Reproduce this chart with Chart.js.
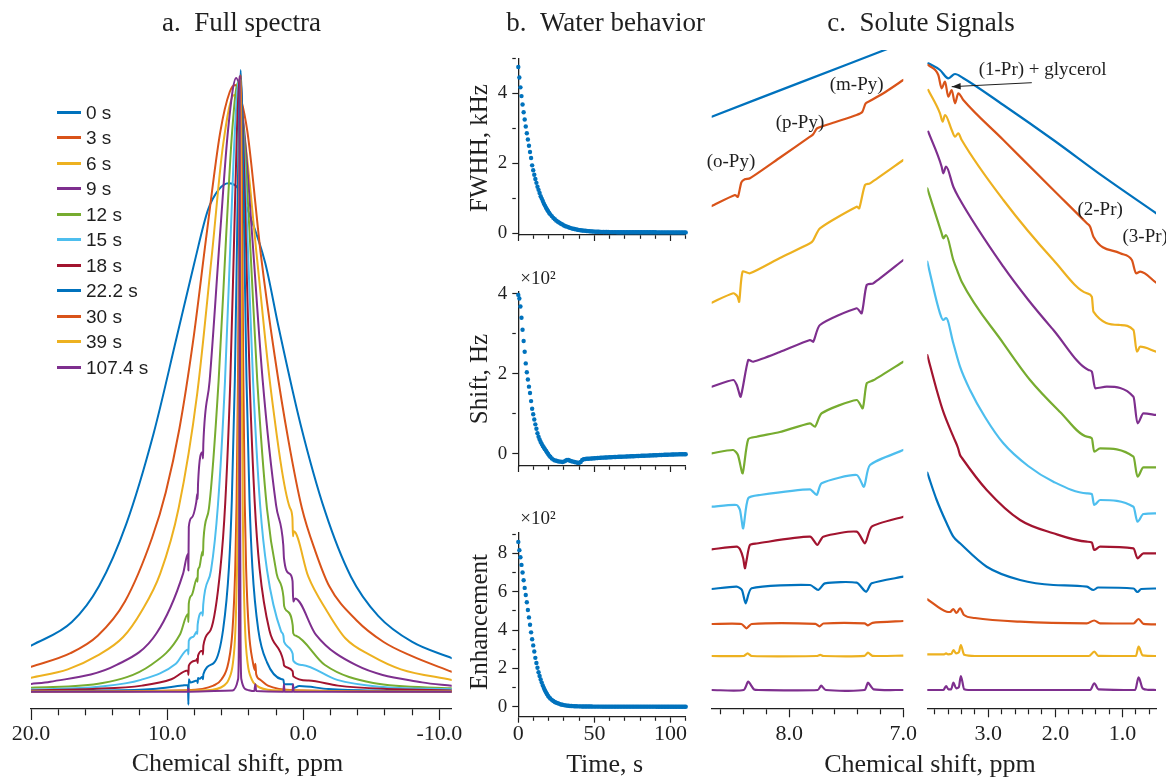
<!DOCTYPE html>
<html><head><meta charset="utf-8">
<script src="https://cdn.jsdelivr.net/npm/chart.js@4.4.1/dist/chart.umd.min.js"></script>
<style>
html,body{margin:0;padding:0;background:#fff;}
#wrap{position:relative;width:1166px;height:779px;overflow:hidden;background:#fff;font-family:"Liberation Serif","Times New Roman",serif;color:#1f1f1f;}
canvas{position:absolute;}
.t{position:absolute;transform:translate(-50%,-50%);white-space:nowrap;line-height:1;}
.rot{transform:translate(-50%,-50%) rotate(-90deg);}
.leg{position:absolute;font-family:"Liberation Sans",Arial,sans-serif;font-size:19px;line-height:1;white-space:nowrap;transform:translateY(-50%);}
.legline{position:absolute;height:3px;width:24px;}
</style></head><body><div id="wrap"></div>
<script>
// ---------------- DATA ----------------
const seriesLabels = ['0 s','3 s','6 s','9 s','12 s','15 s','18 s','22.2 s','30 s','39 s','107.4 s'];
const seriesColors = ['#0072BD','#D95319','#EDB120','#7E2F8E','#77AC30','#4DBEEE','#A2142F','#0072BD','#D95319','#EDB120','#7E2F8E'];

// a. Full spectra: [ppm, normalized intensity]
const spec_0s = [[20,0.074],[17,0.112],[15,0.17],[13,0.27],[11,0.415],[9.3,0.57],[8,0.69],[7,0.775],[6.2,0.808],[5.5,0.818],[4.8,0.81],[4,0.77],[2.8,0.69],[1.8,0.585],[0.2,0.43],[-1.6,0.29],[-3.5,0.185],[-5.5,0.122],[-8,0.08],[-10.9,0.054]];
const spec_3s = [[20,0.04],[17.1,0.062],[15.1,0.09],[13.1,0.145],[11.1,0.248],[10.1,0.321],[9.1,0.423],[8.1,0.563],[7.1,0.736],[6.1,0.9],[5.4,0.965],[5.0,0.976],[4.6,0.955],[4.1,0.9],[3.1,0.7],[2.1,0.54],[1.1,0.405],[0.1,0.295],[-0.9,0.225],[-1.9,0.17],[-3.9,0.115],[-5.9,0.08],[-7.9,0.058],[-10.9,0.032]];
const spec_6s = [[20,0.0225],[17.3,0.036],[15.13,0.058],[13.23,0.088],[11.87,0.13],[10.51,0.19],[9.15,0.296],[7.79,0.48],[6.7,0.706],[5.89,0.88],[5.07,0.96],[4.25,0.88],[3.44,0.706],[2.35,0.48],[0.99,0.296],[0.8,0.28],[0.76,0.25],[0.7,0.258],[-0.37,0.185],[-1.73,0.13],[-3.09,0.086],[-4.99,0.058],[-7.17,0.036],[-10.9,0.019]];
const spec_9s = [[20,0.0124],[18.58,0.016],[13.71,0.043],[10.78,0.094],[8.83,0.19],[8.47,0.222],[8.44,0.195],[8.41,0.265],[8.2,0.28],[7.86,0.305],[7.79,0.318],[7.76,0.31],[7.73,0.335],[7.40,0.385],[7.37,0.375],[7.34,0.40],[6.88,0.50],[6.10,0.74],[5.52,0.905],[4.93,0.987],[4.35,0.905],[3.76,0.735],[2.98,0.5],[2.0,0.30],[1.47,0.236],[1.42,0.215],[1.03,0.19],[0.79,0.178],[0.74,0.145],[0.6,0.15],[-0.92,0.092],[-3.85,0.043],[-8.72,0.015],[-10.9,0.0097]];
const spec_12s = [[20,0.0064],[14.74,0.014],[11.19,0.043],[9.06,0.092],[8.47,0.125],[8.44,0.112],[8.41,0.142],[8.2,0.155],[7.80,0.183],[7.77,0.177],[7.74,0.195],[7.64,0.2],[7.40,0.226],[7.37,0.219],[7.33,0.245],[6.93,0.295],[6.22,0.5],[5.65,0.74],[5.23,0.9],[4.8,0.98],[4.37,0.9],[3.95,0.74],[3.38,0.5],[2.67,0.295],[1.96,0.19],[1.46,0.153],[1.41,0.138],[1.2,0.13],[0.78,0.107],[0.74,0.094],[0.54,0.09],[-1.59,0.043],[-5.14,0.014],[-10.9,0.0055]];
const spec_15s = [[20,0.0035],[15.02,0.008],[11.93,0.019],[9.36,0.045],[8.47,0.068],[8.44,0.06],[8.41,0.082],[8.1,0.088],[7.81,0.097],[7.79,0.093],[7.76,0.108],[7.42,0.128],[7.39,0.122],[7.35,0.14],[6.78,0.195],[6.27,0.30],[5.75,0.50],[5.34,0.73],[5.03,0.90],[4.72,0.984],[4.41,0.90],[4.10,0.73],[3.69,0.50],[3.17,0.30],[2.66,0.195],[1.63,0.097],[1.46,0.09],[1.41,0.08],[0.78,0.061],[0.74,0.05],[0.08,0.043],[-2.49,0.019],[-5.58,0.008],[-10.9,0.004]];
const spec_18s = [[20,0.002],[15.45,0.0044],[11.85,0.0098],[9.69,0.02],[8.47,0.034],[8.44,0.027],[8.41,0.042],[7.89,0.05],[7.79,0.053],[7.76,0.046],[7.73,0.058],[7.40,0.066],[7.37,0.06],[7.34,0.074],[6.81,0.099],[6.09,0.198],[5.73,0.305],[5.37,0.495],[5.08,0.73],[4.87,0.905],[4.65,0.99],[4.43,0.905],[4.22,0.73],[3.93,0.495],[3.57,0.305],[3.21,0.198],[2.49,0.099],[1.46,0.049],[1.41,0.042],[0.78,0.033],[0.74,0.025],[-0.39,0.018],[-2.55,0.0098],[-6.15,0.0044],[-10.9,0.002]];
const spec_22s = [[20,0.0005],[15.35,0.0016],[11.05,0.0044],[8.9,0.01],[8.47,0.011],[8.44,-0.021],[8.41,0.02],[8.3,0.015],[7.79,0.018],[7.76,0.014],[7.73,0.022],[7.61,0.021],[7.40,0.024],[7.37,0.02],[7.34,0.028],[6.54,0.047],[5.89,0.10],[5.46,0.20],[5.25,0.308],[5.03,0.50],[4.86,0.735],[4.73,0.917],[4.6,1.0],[4.47,0.917],[4.34,0.735],[4.17,0.5],[3.95,0.308],[3.74,0.2],[3.31,0.1],[2.66,0.047],[1.59,0.02],[1.46,0.019],[1.41,0.012],[0.78,0.012],[0.74,0.006],[0.3,0.009],[-1.85,0.0044],[-6.15,0.0016],[-10.9,0.0005]];
const spec_30s = [[20,0.0003],[8.6,0.0025],[6.6,0.0099],[6.0,0.02],[5.5,0.047],[5.2,0.099],[5.0,0.198],[4.9,0.305],[4.8,0.496],[4.72,0.73],[4.66,0.91],[4.6,0.992],[4.54,0.91],[4.48,0.73],[4.4,0.496],[4.3,0.305],[4.2,0.198],[4.0,0.099],[3.7,0.047],[3.56,0.035],[3.52,0.045],[3.46,0.028],[3.2,0.02],[2.6,0.0099],[0.6,0.0025],[-10.9,0.0003]];
const spec_39s = [[20,0.0002],[7.03,0.0025],[5.83,0.0098],[5.47,0.02],[5.17,0.046],[4.99,0.098],[4.87,0.197],[4.81,0.30],[4.75,0.49],[4.702,0.725],[4.666,0.90],[4.63,0.984],[4.594,0.90],[4.558,0.725],[4.51,0.49],[4.45,0.30],[4.39,0.197],[4.27,0.098],[4.09,0.046],[3.79,0.02],[3.43,0.0098],[2.23,0.0025],[-10.9,0.0002]];
const spec_107s = [[20,0],[8.48,0],[8.44,0.005],[8.40,0],[5.2,0.002],[4.79,0.02],[4.73,0.09],[4.70,0.33],[4.67,0.99],[4.64,0.33],[4.61,0.09],[4.55,0.02],[4.1,0.003],[3.6,0.001],[3.52,0.012],[3.46,0.001],[1.46,0],[1.42,0.012],[1.38,0],[0.79,0],[0.75,0.012],[0.71,0],[-10.9,0]];
const fullSpectra = [spec_0s,spec_3s,spec_6s,spec_9s,spec_12s,spec_15s,spec_18s,spec_22s,spec_30s,spec_39s,spec_107s];

// b. Water behavior
const waterTime = [0,0.7,1.4,2.1,2.8,3.5,4.2,4.9,5.6,6.3,7,7.7,8.4,9.1,9.8,10.5,11.2,11.9,12.6,13.3,14,14.7,15.4,16.1,16.8,17.5,18.2,18.9,19.6,20.3,21,
22,23,24,25,26,27,28,29,30,31,32,33,34,35,36,37,38,39,40,41,42,43,44,45,46,47,48,49,50,51,52,53,54,55,56,57,58,59,60,
61,62,63,64,65,66,67,68,69,70,71,72,73,74,75,76,77,78,79,80,81,82,83,84,85,86,87,88,89,90,91,92,93,94,95,96,97,98,99,100,101,102,103,104,105,106,107,108,109,110];
const fwhhKHz = [4.75,4.45,4.17,3.92,3.68,3.46,3.25,3.05,2.86,2.68,2.50,2.32,2.15,1.94,1.80,1.67,1.55,1.44,1.33,1.24,1.15,1.06,0.99,0.92,0.85,0.79,0.73,0.68,0.63,0.58,0.54,
0.49,0.44,0.40,0.36,0.33,0.30,0.27,0.25,0.22,0.20,0.19,0.17,0.155,0.14,0.13,0.12,0.11,0.10,0.09,0.085,0.08,0.075,0.07,0.065,0.06,0.056,0.053,0.05,0.047,0.045,0.043,0.041,0.04,0.038,0.037,0.036,0.035,0.034,0.033,
0.032,0.032,0.031,0.031,0.030,0.030,0.030,0.029,0.029,0.029,0.028,0.028,0.028,0.028,0.028,0.028,0.028,0.028,0.028,0.028,0.027,0.027,0.027,0.027,0.027,0.027,0.027,0.027,0.027,0.027,0.026,0.026,0.026,0.026,0.026,0.026,0.026,0.026,0.026,0.026,0.025,0.025,0.025,0.025,0.025,0.025,0.025,0.025,0.025,0.025];
const shiftHz100 = [3.97,3.88,3.68,3.40,3.10,2.82,2.55,2.26,2.04,1.86,1.68,1.52,1.32,1.13,0.99,0.86,0.74,0.63,0.52,0.43,0.36,0.30,0.25,0.20,0.16,0.12,0.08,0.04,0.00,-0.04,-0.07,
-0.11,-0.14,-0.16,-0.17,-0.18,-0.19,-0.19,-0.20,-0.19,-0.17,-0.15,-0.15,-0.17,-0.18,-0.19,-0.20,-0.21,-0.22,-0.22,-0.20,-0.15,-0.13,-0.125,-0.12,-0.118,-0.115,-0.112,-0.11,-0.107,-0.104,-0.10,-0.098,-0.095,-0.092,-0.09,-0.088,-0.086,-0.084,-0.082,
-0.080,-0.078,-0.076,-0.075,-0.073,-0.071,-0.07,-0.068,-0.066,-0.065,-0.063,-0.061,-0.06,-0.058,-0.056,-0.055,-0.053,-0.051,-0.05,-0.048,-0.046,-0.045,-0.043,-0.041,-0.04,-0.038,-0.036,-0.035,-0.033,-0.031,-0.03,-0.028,-0.026,-0.025,-0.023,-0.021,-0.02,-0.018,-0.016,-0.015,-0.013,-0.012,-0.011,-0.01,-0.009,-0.008,-0.007,-0.006,-0.005,-0.005];
const enhancement100 = [8.60,8.17,7.80,7.40,7.00,6.60,6.20,5.83,5.45,5.05,4.66,4.28,3.88,3.52,3.20,2.88,2.55,2.28,2.03,1.80,1.60,1.42,1.26,1.11,0.98,0.86,0.75,0.65,0.56,0.49,0.43,
0.36,0.30,0.25,0.21,0.18,0.15,0.12,0.10,0.085,0.07,0.06,0.05,0.04,0.035,0.03,0.027,0.024,0.021,0.019,0.017,0.015,0.014,0.013,0.012,0.011,0.01,0.009,0.008,0.008,0.007,0.007,0.006,0.006,0.005,0.005,0.005,0.004,0.004,0.004,
0.004,0.004,0.004,0.004,0.004,0.004,0.004,0.004,0.004,0.004,0.003,0.003,0.003,0.003,0.003,0.003,0.003,0.003,0.003,0.003,0.003,0.003,0.003,0.003,0.003,0.003,0.003,0.003,0.003,0.003,0.002,0.002,0.002,0.002,0.002,0.002,0.002,0.002,0.002,0.002,0.002,0.002,0.002,0.002,0.002,0.002,0.002,0.002,0.002,0.002];

// c. Solute signals (stacked traces, arbitrary units incl. offset): aromatic region
const aro_0s = [[8.68,5.916],[7.906,6.257],[7.0,6.655]];
const aro_3s = [[8.68,5.023],[8.476,5.133],[8.45,5.115],[8.42,5.26],[8.39,5.29],[8.345,5.30],[8.08,5.508],[7.818,5.716],[7.79,5.74],[7.755,5.80],[7.6,5.86],[7.41,5.933],[7.36,5.963],[7.33,6.05],[7.29,6.075],[7.15,6.168],[7.0,6.283]];
const aro_6s = [[8.68,4.056],[8.491,4.15],[8.455,4.12],[8.439,4.066],[8.409,4.366],[8.345,4.35],[8.082,4.503],[7.818,4.65],[7.79,4.68],[7.731,4.80],[7.409,5.016],[7.386,5.0],[7.336,5.233],[7.292,5.25],[7.0,5.483]];
const aro_9s = [[8.68,3.216],[8.491,3.283],[8.46,3.233],[8.426,3.116],[8.36,3.483],[8.316,3.466],[8.082,3.563],[7.818,3.683],[7.789,3.666],[7.731,3.833],[7.409,4.0],[7.365,3.95],[7.321,4.233],[7.263,4.25],[7.0,4.483]];
const aro_12s = [[8.68,2.55],[8.491,2.583],[8.45,2.533],[8.409,2.35],[8.36,2.69],[8.286,2.716],[8.082,2.763],[7.818,2.85],[7.774,2.816],[7.716,2.95],[7.409,3.083],[7.356,3.0],[7.321,3.25],[7.263,3.28],[7.0,3.466]];
const aro_15s = [[8.68,2.016],[8.461,2.033],[8.432,1.983],[8.404,1.80],[8.36,2.10],[8.257,2.133],[7.818,2.19],[7.76,2.133],[7.716,2.25],[7.409,2.333],[7.345,2.216],[7.292,2.433],[7.0,2.583]];
const aro_18s = [[8.68,1.59],[8.461,1.616],[8.432,1.59],[8.404,1.50],[8.389,1.40],[8.374,1.483],[8.345,1.633],[8.286,1.648],[7.818,1.716],[7.754,1.633],[7.702,1.716],[7.409,1.766],[7.336,1.65],[7.277,1.816],[7.0,1.916]];
const aro_22s = [[8.68,1.193],[8.461,1.216],[8.415,1.183],[8.382,1.05],[8.33,1.20],[7.818,1.233],[7.746,1.183],[7.687,1.25],[7.409,1.256],[7.327,1.166],[7.277,1.25],[7.0,1.316]];
const aro_30s = [[8.68,0.843],[8.42,0.843],[8.375,0.80],[8.33,0.843],[7.77,0.845],[7.735,0.82],[7.70,0.848],[7.34,0.85],[7.31,0.83],[7.27,0.855],[7.0,0.873]];
const aro_39s = [[8.68,0.523],[8.40,0.523],[8.365,0.55],[8.33,0.523],[7.76,0.523],[7.728,0.535],[7.70,0.523],[7.34,0.525],[7.31,0.556],[7.27,0.525],[7.0,0.527]];
const aro_107s = [[8.68,0.183],[8.40,0.183],[8.36,0.266],[8.31,0.19],[8.27,0.183],[7.75,0.183],[7.72,0.226],[7.68,0.183],[7.34,0.183],[7.31,0.256],[7.26,0.19],[7.0,0.183]];
const aromaticTraces = [aro_0s,aro_3s,aro_6s,aro_9s,aro_12s,aro_15s,aro_18s,aro_22s,aro_30s,aro_39s,aro_107s];

// aliphatic region
const ali_0s = [[3.896,6.45],[3.721,6.383],[3.597,6.30],[3.497,6.343],[3.378,6.303],[2.776,6.033],[2.03,5.683],[1.284,5.316],[0.497,4.95]];
const ali_3s = [[3.896,6.433],[3.746,6.333],[3.696,6.20],[3.646,6.266],[3.597,6.116],[3.546,6.183],[3.497,6.05],[3.448,6.15],[3.373,6.083],[2.776,5.683],[2.03,5.183],[1.531,4.85],[1.482,4.816],[1.433,4.716],[1.034,4.55],[0.86,4.483],[0.796,4.35],[0.736,4.366],[0.497,4.256]];
const ali_6s = [[3.896,6.183],[3.721,5.95],[3.681,5.866],[3.646,5.933],[3.546,5.783],[3.497,5.716],[3.448,5.75],[3.397,5.683],[2.776,5.083],[2.03,4.483],[1.531,4.15],[1.457,4.116],[1.433,3.966],[1.034,3.833],[0.836,3.783],[0.785,3.566],[0.736,3.616],[0.497,3.566]];
const ali_9s = [[3.896,5.766],[3.696,5.416],[3.672,5.35],[3.631,5.416],[3.522,5.216],[3.448,5.116],[2.776,4.416],[2.403,4.083],[2.03,3.783],[1.507,3.383],[1.457,3.366],[1.407,3.20],[1.233,3.216],[0.836,3.116],[0.776,2.85],[0.687,2.95],[0.497,2.933]];
const ali_12s = [[3.91,5.20],[3.696,4.75],[3.672,4.70],[3.631,4.733],[3.522,4.483],[3.448,4.35],[3.397,4.266],[2.776,3.65],[2.378,3.283],[1.93,2.963],[1.531,2.716],[1.457,2.70],[1.422,2.566],[1.333,2.60],[0.836,2.516],[0.776,2.316],[0.687,2.41],[0.497,2.41]];
const ali_15s = [[3.91,4.466],[3.721,3.95],[3.672,3.883],[3.631,3.903],[3.522,3.65],[3.422,3.416],[3.273,3.183],[3.05,2.913],[2.776,2.65],[2.406,2.423],[2.03,2.266],[1.531,2.15],[1.457,2.143],[1.422,2.033],[1.333,2.083],[0.836,2.016],[0.776,1.866],[0.687,1.943],[0.497,1.95]];
const ali_18s = [[3.91,3.533],[3.77,3.183],[3.672,2.966],[3.522,2.716],[3.452,2.603],[3.422,2.533],[3.393,2.503],[3.024,2.183],[2.527,1.883],[2.03,1.75],[1.531,1.666],[1.457,1.658],[1.422,1.583],[1.333,1.616],[0.836,1.60],[0.776,1.50],[0.687,1.55],[0.497,1.55]];
const ali_22s = [[3.91,2.356],[3.77,2.083],[3.621,1.85],[3.522,1.716],[3.422,1.65],[3.024,1.416],[2.527,1.283],[2.03,1.233],[1.531,1.216],[1.433,1.183],[1.363,1.208],[0.836,1.198],[0.776,1.163],[0.72,1.193],[0.497,1.198]];
const ali_30s = [[3.91,1.09],[3.621,0.966],[3.57,0.963],[3.522,0.993],[3.475,0.953],[3.422,1.0],[3.363,0.933],[3.2,0.903],[2.527,0.866],[1.531,0.85],[1.422,0.878],[1.333,0.85],[0.836,0.848],[0.761,0.893],[0.687,0.845],[0.497,0.84]];
const ali_39s = [[3.91,0.54],[3.66,0.54],[3.63,0.55],[3.60,0.54],[3.55,0.545],[3.52,0.583],[3.48,0.55],[3.44,0.56],[3.41,0.633],[3.36,0.535],[3.2,0.523],[1.5,0.523],[1.42,0.566],[1.36,0.525],[0.80,0.523],[0.76,0.616],[0.70,0.53],[0.497,0.523]];
const ali_107s = [[3.91,0.183],[3.67,0.183],[3.63,0.223],[3.595,0.19],[3.555,0.19],[3.52,0.256],[3.48,0.20],[3.44,0.21],[3.41,0.323],[3.36,0.19],[3.3,0.183],[1.48,0.183],[1.42,0.25],[1.36,0.19],[0.81,0.183],[0.76,0.31],[0.70,0.20],[0.62,0.185],[0.497,0.183]];
const aliphaticTraces = [ali_0s,ali_3s,ali_6s,ali_9s,ali_12s,ali_15s,ali_18s,ali_22s,ali_30s,ali_39s,ali_107s];

// ticks and labels
const specTicks = [20,18,16,14,12,10,8,6,4,2,0,-2,-4,-6,-8,-10];
const specMajor = [20,10,0,-10];
const specTickLabels = ['20.0','10.0','0.0','-10.0'];
const timeTicks = [0,10,20,30,40,50,60,70,80,90,100,110];
const timeMajor = [0,50,100];
const timeTickLabels = ['0','50','100'];
const fwhhTicks = [0,1,2,3,4,5]; const fwhhMajor = [0,2,4]; const fwhhTickLabels = ['0','2','4'];
const shiftTicks = [0,1,2,3,4]; const shiftMajor = [0,2,4]; const shiftTickLabels = ['0','2','4'];
const enhTicks = [0,1,2,3,4,5,6,7,8,9]; const enhMajor = [0,2,4,6,8]; const enhTickLabels = ['0','2','4','6','8'];
const aroTicks = [8.6,8.4,8.2,8.0,7.8,7.6,7.4,7.2,7.0]; const aroMajor = [8.0,7.0]; const aroTickLabels = ['8.0','7.0'];
const aliTicks = [3.8,3.6,3.4,3.2,3.0,2.8,2.6,2.4,2.2,2.0,1.8,1.6,1.4,1.2,1.0,0.8,0.6]; const aliMajor = [3.0,2.0,1.0]; const aliTickLabels = ['3.0','2.0','1.0'];

const aroNotes = [{text:'(o-Py)',x:8.511,y:5.466},{text:'(p-Py)',x:7.906,y:5.853},{text:'(m-Py)',x:7.409,y:6.233}];
const aliNotes = [{text:'(1-Pr) + glycerol',x:2.191,y:6.383},{text:'(2-Pr)',x:1.333,y:4.983},{text:'(3-Pr)',x:0.661,y:4.713}];
const aliArrows = [{from:[2.352,6.256],to:[3.546,6.216]}];

// ---------------- RENDER ----------------
const INK = '#1f1f1f';
Chart.defaults.font.family = '"Liberation Serif","Times New Roman",serif';
Chart.defaults.color = INK;
const wrap = document.getElementById('wrap');

function place(l,t,w,h){
  const c = document.createElement('canvas');
  c.width = w; c.height = h;
  c.style.left = l+'px'; c.style.top = t+'px'; c.style.width = w+'px'; c.style.height = h+'px';
  wrap.appendChild(c); return c.getContext('2d');
}
function addText(txt,x,y,size,cls){
  const d = document.createElement('div'); d.className = 't'+(cls?' '+cls:'');
  d.style.left = x+'px'; d.style.top = y+'px'; d.style.fontSize = size+'px'; d.textContent = txt;
  wrap.appendChild(d);
}
const near = (a,b)=>Math.abs(a-b)<1e-6;

function xScale(o){
  return {
    type:'linear', position:'bottom', min:o.min, max:o.max, reverse:!!o.reverse,
    afterBuildTicks: s => { s.ticks = o.ticks.map(v=>({value:v})); },
    afterFit: s => { s.height = o.height; },
    grid:{drawOnChartArea:false, drawTicks:true, tickLength:o.tl, tickWidth:1.2, tickColor:INK,
      tickBorderDash: c => (c.tick && o.major.some(m=>near(m,c.tick.value))) ? [] : [o.tlm, 80]},
    border:{display:true, color:INK, width:1.3},
    ticks:{autoSkip:false, maxRotation:0, minRotation:0, padding:o.pad, color:INK, font:{size:22, lineHeight:1},
      callback:(v)=>{ if(!o.labels) return ''; const i=o.major.findIndex(m=>near(m,v)); return i>=0 ? o.labels[i] : ''; }}
  };
}
function yScale(o){
  return {
    type:'linear', position:'left', min:o.min, max:o.max,
    afterBuildTicks: s => { s.ticks = o.ticks.map(v=>({value:v})); },
    afterFit: s => { s.width = 40; },
    grid:{drawOnChartArea:false, drawTicks:true, tickLength:6, tickWidth:1.2, tickColor:INK,
      tickBorderDash: c => (c.tick && o.major.some(m=>near(m,c.tick.value))) ? [] : [3.5, 80]},
    border:{display:true, color:INK, width:1.3},
    ticks:{autoSkip:false, padding:5, color:INK, font:{size:19},
      callback:(v)=>{ const i=o.major.findIndex(m=>near(m,v)); return i>=0 ? o.labels[i] : ''; }}
  };
}

const notesPlugin = {
  id:'notes',
  afterDatasetsDraw(chart, args, opts){
    const ctx = chart.ctx, xs = chart.scales.x, ys = chart.scales.y;
    ctx.save();
    ctx.fillStyle = INK; ctx.strokeStyle = INK;
    ctx.textAlign = 'center'; ctx.textBaseline = 'middle';
    ctx.font = '19px "Liberation Serif"';
    (opts.items||[]).forEach(n => ctx.fillText(n.text, xs.getPixelForValue(n.x), ys.getPixelForValue(n.y)));
    (opts.arrows||[]).forEach(a => {
      const x1 = xs.getPixelForValue(a.from[0]), y1 = ys.getPixelForValue(a.from[1]);
      const x2 = xs.getPixelForValue(a.to[0]), y2 = ys.getPixelForValue(a.to[1]);
      ctx.lineWidth = 1; ctx.beginPath(); ctx.moveTo(x1,y1); ctx.lineTo(x2,y2); ctx.stroke();
      const ang = Math.atan2(y2-y1,x2-x1), L=9, W=3.2;
      ctx.beginPath(); ctx.moveTo(x2,y2);
      ctx.lineTo(x2-L*Math.cos(ang)+W*Math.sin(ang), y2-L*Math.sin(ang)-W*Math.cos(ang));
      ctx.lineTo(x2-L*Math.cos(ang)-W*Math.sin(ang), y2-L*Math.sin(ang)+W*Math.cos(ang));
      ctx.closePath(); ctx.fill();
    });
    if (opts.exponent){
      ctx.textAlign = 'left';
      ctx.fillText(opts.exponent, chart.chartArea.left+2, chart.chartArea.top-13);
    }
    ctx.restore();
  }
};

const baseOpts = (pad, scales, plug) => ({
  responsive:false, animation:false, devicePixelRatio:1, events:[],
  layout:{autoPadding:false, padding:pad},
  plugins:Object.assign({legend:{display:false}, tooltip:{enabled:false}}, plug||{}),
  scales
});
const lineSets = (arr, w, mode) => arr.map((d,i)=>({
  label:seriesLabels[i], data:d.map(p=>({x:p[0],y:p[1]})), borderColor:seriesColors[i], backgroundColor:seriesColors[i],
  borderWidth:w, pointRadius:0, fill:false, order:arr.length-i,
  cubicInterpolationMode: mode==='smooth' ? 'default' : 'monotone', tension: mode==='smooth' ? 0.22 : 0.4,
  borderJoinStyle:'round', borderCapStyle:'round'
}));

// a. Full spectra
new Chart(place(0,0,470,779), {
  type:'line',
  data:{datasets:lineSets(fullSpectra, 2, 'monotone')},
  options:baseOpts({left:31,right:18.3,top:50,bottom:0}, {
    x:xScale({min:-10.9,max:20,reverse:true,ticks:specTicks,major:specMajor,labels:specTickLabels,tl:11,tlm:6,pad:3.5,height:70}),
    y:{type:'linear',display:false,min:-0.0278,max:1.0322}
  })
});

// b. Water behavior
function waterChart(top,h,padTop,axisH,values,yo,showX,exponent){
  new Chart(place(465,top,235,h), {
    type:'scatter',
    data:{datasets:[{data:waterTime.map((t,i)=>({x:t,y:values[i]})), backgroundColor:'#0072BD', borderWidth:0, pointRadius:2.2, clip:false}]},
    options:baseOpts({left:13.3,right:14.3,top:padTop,bottom:0}, {
      x:xScale({min:0,max:110,ticks:timeTicks,major:timeMajor,labels:showX?timeTickLabels:null,tl:6,tlm:3.5,pad:0.5,height:axisH}),
      y:yScale(yo)
    }, {notes:{exponent:exponent}}),
    plugins:[notesPlugin]
  });
}
waterChart(0,260,58.3,25,fwhhKHz,{min:-0.05,max:5.0,ticks:fwhhTicks,major:fwhhMajor,labels:fwhhTickLabels},false,null);
waterChart(260,240,31.7,34,shiftHz100,{min:-0.3,max:4.05,ticks:shiftTicks,major:shiftMajor,labels:shiftTickLabels},false,'\u00d710\u00b2');
waterChart(500,279,32.3,62.3,enhancement100,{min:-0.52,max:9.1,ticks:enhTicks,major:enhMajor,labels:enhTickLabels},true,'\u00d710\u00b2');

// c. Solute signals
new Chart(place(690,0,240,779), {
  type:'line',
  data:{datasets:lineSets(aromaticTraces, 2.2, 'smooth')},
  options:baseOpts({left:21.7,right:26.7,top:50,bottom:0}, {
    x:xScale({min:7.0,max:8.68,reverse:true,ticks:aroTicks,major:aroMajor,labels:aroTickLabels,tl:9,tlm:5,pad:6,height:70.7}),
    y:{type:'linear',display:false,min:0,max:6.583}
  }, {notes:{items:aroNotes}}),
  plugins:[notesPlugin]
});
new Chart(place(905,0,261,779), {
  type:'line',
  data:{datasets:lineSets(aliphaticTraces, 2.2, 'monotone')},
  options:baseOpts({left:22.3,right:10,top:50,bottom:0}, {
    x:xScale({min:0.5,max:3.91,reverse:true,ticks:aliTicks,major:aliMajor,labels:aliTickLabels,tl:9,tlm:5,pad:6,height:70.7}),
    y:{type:'linear',display:false,min:0,max:6.583}
  }, {notes:{items:aliNotes, arrows:aliArrows}}),
  plugins:[notesPlugin]
});

// titles and axis titles (real text)
addText('a.\u2002Full spectra',241.5,22,27);
addText('b.\u2002Water behavior',605.5,22,27);
addText('c.\u2002Solute Signals',921,22,27);
addText('Chemical shift, ppm',237.5,763,26);
addText('Time, s',604.7,764,26);
addText('Chemical shift, ppm',930,764,26);
addText('FWHH, kHz',478.3,147.5,25,'rot');
addText('Shift, Hz',478,379,25,'rot');
addText('Enhancement',478,621.7,25,'rot');

// legend
seriesLabels.forEach((lab,i)=>{
  const y = 111.7 + 25.5*i;
  const ln = document.createElement('div'); ln.className='legline';
  ln.style.left='57px'; ln.style.top=(Math.round(y)-1)+'px'; ln.style.background=seriesColors[i]; wrap.appendChild(ln);
  const tx = document.createElement('div'); tx.className='leg';
  tx.style.left='86px'; tx.style.top=y+'px'; tx.textContent=lab; wrap.appendChild(tx);
});
</script></body></html>
